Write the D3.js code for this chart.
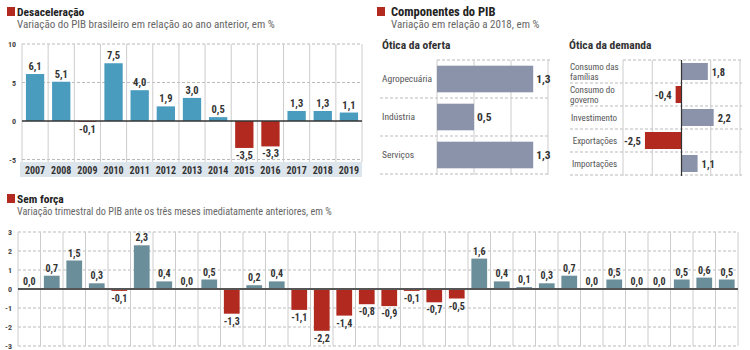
<!DOCTYPE html>
<html>
<head>
<meta charset="utf-8">
<script src="https://cdn.jsdelivr.net/npm/d3@7"></script>
<style>
body { margin: 0; background: #fff; }
svg { font-family: "Roboto Condensed", "Liberation Sans", sans-serif; }
</style>
</head>
<body>
<svg id="chart" width="750" height="350"></svg>
<script>
// anual
var years = ["2007","2008","2009","2010","2011","2012","2013","2014","2015","2016","2017","2018","2019"];
var annualGrowth = [6.1, 5.1, -0.1, 7.5, 4.0, 1.9, 3.0, 0.5, -3.5, -3.3, 1.3, 1.3, 1.1];
var annualTicks = [10, 5, 0, -5];

// componentes
var supplySectors = ["Agropecuária", "Indústria", "Serviços"];
var supplyGrowth = [1.3, 0.5, 1.3];
var supplyTicks = [0, 0.5, 1, 1.5];
var demandItems = ["Consumo das|famílias", "Consumo do|governo", "Investimento", "Exportações", "Importações"];
var demandGrowth = [1.8, -0.4, 2.2, -2.5, 1.1];
var demandTicks = [-4, -2, 0, 2, 4];

// trimestral
var quarterGrowth = [0.0, 0.7, 1.5, 0.3, -0.1, 2.3, 0.4, 0.0, 0.5, -1.3, 0.2, 0.4,
  -1.1, -2.2, -1.4, -0.8, -0.9, -0.1, -0.7, -0.5, 1.6, 0.4, 0.1, 0.3,
  0.7, 0.0, 0.5, 0.0, 0.0, 0.5, 0.6, 0.5];
var quarterTicks = [3, 2, 1, 0, -1, -2, -3];

var RED = "#b22a1f";
var fmt = function(d) { return d.toFixed(1).replace(".", ","); };

var svg = d3.select("#chart");

function header(x, y, gap, title, titleSize, subtitle, subSize) {
    svg.append("rect").attr("x", x).attr("y", y).attr("width", 8).attr("height", 9).attr("fill", RED);
    svg.append("text").attr("x", x + gap).attr("y", y + 9)
        .style("font-size", titleSize).style("font-weight", "bold").attr("fill", "#222").text(title);
    svg.append("text").attr("x", x + gap).attr("y", y + 21)
        .style("font-size", subSize).attr("fill", "#666").text(subtitle);
}

// ---------- Desaceleração ----------
header(7, 7, 10, "Desaceleração", "11.5px", "Variação do PIB brasileiro em relação ao ano anterior, em %", "11px");

var x1 = d3.scaleBand().domain(years).range([22, 362]).paddingInner(0.3).paddingOuter(0.15);
var y1 = d3.scaleLinear().domain([-5, 10]).range([159.5, 44]);
var step1 = x1.step();

svg.append("rect").attr("x", 20).attr("y", 162).attr("width", 342).attr("height", 15).attr("fill", "#dde5ec");

svg.append("g").selectAll("line").data(annualTicks.filter(d => d != 0)).enter().append("line")
    .attr("x1", 22).attr("x2", 362).attr("y1", d => y1(d)).attr("y2", d => y1(d))
    .attr("stroke", "#bbb").attr("stroke-dasharray", "3,2");

svg.append("g").selectAll("line").data(years.concat(["end"])).enter().append("line")
    .attr("x1", (d, i) => 22 + i * step1).attr("x2", (d, i) => 22 + i * step1)
    .attr("y1", y1(10)).attr("y2", 162)
    .attr("stroke", "#ccc");

svg.append("g").selectAll("text").data(annualTicks).enter().append("text")
    .attr("x", 16).attr("y", d => y1(d) + 3).attr("text-anchor", "end")
    .style("font-size", "8px").style("font-weight", "bold").attr("fill", "#444").text(d => d);

svg.append("g").selectAll("rect").data(annualGrowth).enter().append("rect")
    .attr("x", (d, i) => x1(years[i]))
    .attr("width", x1.bandwidth())
    .attr("y", d => y1(Math.max(d, 0)))
    .attr("height", d => Math.abs(y1(d) - y1(0)))
    .attr("fill", d => d >= 0 ? "#4a9cbf" : RED);

svg.append("line").attr("x1", 22).attr("x2", 362).attr("y1", y1(0)).attr("y2", y1(0))
    .attr("stroke", "#333").attr("stroke-width", 1.5);

svg.append("g").selectAll("text").data(annualGrowth).enter().append("text")
    .attr("x", (d, i) => x1(years[i]) + x1.bandwidth() / 2)
    .attr("y", d => d >= 0 ? y1(d) - 4 : y1(d) + 11)
    .attr("text-anchor", "middle")
    .style("font-size", "10.5px").style("font-weight", "bold").attr("fill", "#333").text(fmt);

svg.append("g").selectAll("text").data(years).enter().append("text")
    .attr("x", d => x1(d) + x1.bandwidth() / 2).attr("y", 173.5).attr("text-anchor", "middle")
    .style("font-size", "10px").style("font-weight", "bold").attr("fill", "#333").text(d => d);

// ---------- Componentes do PIB ----------
header(377, 7, 14, "Componentes do PIB", "12.5px", "Variação em relação a 2018, em %", "11px");

svg.append("text").attr("x", 382).attr("y", 49).style("font-size", "11.5px").style("font-weight", "bold")
    .attr("fill", "#333").text("Ótica da oferta");
svg.append("text").attr("x", 569).attr("y", 49).style("font-size", "11.5px").style("font-weight", "bold")
    .attr("fill", "#333").text("Ótica da demanda");

// oferta
var xS = d3.scaleLinear().domain([0, 1.5]).range([437, 548]);
var yS = d3.scaleBand().domain(supplySectors).range([60, 174]).paddingInner(0.3).paddingOuter(0.15);

svg.append("line").attr("x1", 437).attr("x2", 550).attr("y1", 60).attr("y2", 60)
    .attr("stroke", "#bbb").attr("stroke-dasharray", "3,2");
svg.append("g").selectAll("line").data(supplySectors).enter().append("line")
    .attr("x1", 380).attr("x2", 550)
    .attr("y1", (d, i) => 60 + (i + 1) * yS.step()).attr("y2", (d, i) => 60 + (i + 1) * yS.step())
    .attr("stroke", "#bbb").attr("stroke-dasharray", "3,2");
svg.append("g").selectAll("line").data(supplyTicks).enter().append("line")
    .attr("x1", d => xS(d)).attr("x2", d => xS(d)).attr("y1", 60).attr("y2", 175)
    .attr("stroke", "#ccc");

svg.append("g").selectAll("rect").data(supplyGrowth).enter().append("rect")
    .attr("x", xS(0)).attr("y", (d, i) => yS(supplySectors[i]))
    .attr("width", d => xS(d) - xS(0)).attr("height", yS.bandwidth())
    .attr("fill", "#8a93a9");

svg.append("g").selectAll("text").data(supplyGrowth).enter().append("text")
    .attr("x", d => xS(d) + 3).attr("y", (d, i) => yS(supplySectors[i]) + yS.bandwidth() / 2 + 4)
    .style("font-size", "11.5px").style("font-weight", "bold").attr("fill", "#333").text(fmt);

svg.append("g").selectAll("text").data(supplySectors).enter().append("text")
    .attr("x", 382).attr("y", d => yS(d) + yS.bandwidth() / 2 + 3)
    .style("font-size", "9.5px").attr("fill", "#555").text(d => d);

// demanda
var xD = d3.scaleLinear().domain([-4, 4]).range([623, 740]);
var yD = d3.scaleBand().domain(demandItems).range([60, 175]).paddingInner(0.26).paddingOuter(0.13);

svg.append("line").attr("x1", 623).attr("x2", 742).attr("y1", 60).attr("y2", 60)
    .attr("stroke", "#bbb").attr("stroke-dasharray", "3,2");
svg.append("g").selectAll("line").data(demandItems).enter().append("line")
    .attr("x1", 570).attr("x2", 742)
    .attr("y1", (d, i) => 60 + (i + 1) * yD.step()).attr("y2", (d, i) => 60 + (i + 1) * yD.step())
    .attr("stroke", "#bbb").attr("stroke-dasharray", "3,2");
svg.append("g").selectAll("line").data(demandTicks.filter(d => d != 0)).enter().append("line")
    .attr("x1", d => xD(d)).attr("x2", d => xD(d)).attr("y1", 60).attr("y2", 176)
    .attr("stroke", "#ccc");

svg.append("g").selectAll("rect").data(demandGrowth).enter().append("rect")
    .attr("x", d => xD(Math.min(d, 0))).attr("y", (d, i) => yD(demandItems[i]))
    .attr("width", d => Math.abs(xD(d) - xD(0))).attr("height", yD.bandwidth())
    .attr("fill", d => d >= 0 ? "#8a93a9" : RED);

svg.append("line").attr("x1", xD(0)).attr("x2", xD(0)).attr("y1", 60).attr("y2", 176)
    .attr("stroke", "#333").attr("stroke-width", 1.2);

svg.append("g").selectAll("text").data(demandGrowth).enter().append("text")
    .attr("x", d => d >= 0 ? xD(d) + 4 : xD(d) - 4)
    .attr("y", (d, i) => yD(demandItems[i]) + yD.bandwidth() / 2 + 4)
    .attr("text-anchor", d => d >= 0 ? "start" : "end")
    .style("font-size", "10.5px").style("font-weight", "bold").attr("fill", "#333").text(fmt);

var dLabels = svg.append("g").selectAll("text").data(demandItems).enter().append("text")
    .attr("y", d => yD(d) + yD.bandwidth() / 2 + 3)
    .style("font-size", "9px").attr("fill", "#555");
dLabels.each(function(d) {
    var parts = d.split("|");
    var t = d3.select(this);
    if (parts.length == 1) {
        t.attr("text-anchor", "end");
        t.append("tspan").attr("x", 617).text(d);
    } else {
        t.append("tspan").attr("x", 570).attr("dy", -5).text(parts[0]);
        t.append("tspan").attr("x", 570).attr("dy", 10.5).text(parts[1]);
    }
});

// ---------- Sem força ----------
header(7, 194, 10, "Sem força", "11.5px", "Variação trimestral do PIB ante os três meses imediatamente anteriores, em %", "10.2px");

var xQ = d3.scaleBand().domain(d3.range(quarterGrowth.length)).range([18, 738]).paddingInner(0.3).paddingOuter(0.15);
var yQ = d3.scaleLinear().domain([-3, 3]).range([346, 232]);
var stepQ = xQ.step();

svg.append("g").selectAll("line").data(quarterTicks.filter(d => d != 0)).enter().append("line")
    .attr("x1", 18).attr("x2", 738).attr("y1", d => yQ(d)).attr("y2", d => yQ(d))
    .attr("stroke", "#bbb").attr("stroke-dasharray", "3,2");

svg.append("g").selectAll("line").data(d3.range(quarterGrowth.length + 1)).enter().append("line")
    .attr("x1", d => 18 + d * stepQ).attr("x2", d => 18 + d * stepQ)
    .attr("y1", yQ(3)).attr("y2", yQ(-3))
    .attr("stroke", "#ccc");

svg.append("g").selectAll("text").data(quarterTicks).enter().append("text")
    .attr("x", 12).attr("y", d => yQ(d) + 2.5).attr("text-anchor", "end")
    .style("font-size", "8px").style("font-weight", "bold").attr("fill", "#444").text(d => d);

svg.append("g").selectAll("rect").data(quarterGrowth).enter().append("rect")
    .attr("x", (d, i) => xQ(i)).attr("width", xQ.bandwidth())
    .attr("y", d => yQ(Math.max(d, 0)))
    .attr("height", d => Math.abs(yQ(d) - yQ(0)))
    .attr("fill", d => d >= 0 ? "#6b8e9b" : RED);

svg.append("line").attr("x1", 18).attr("x2", 738).attr("y1", yQ(0)).attr("y2", yQ(0))
    .attr("stroke", "#555").attr("stroke-width", 2);

svg.append("g").selectAll("text").data(quarterGrowth).enter().append("text")
    .attr("x", (d, i) => xQ(i) + xQ.bandwidth() / 2)
    .attr("y", d => d >= 0 ? yQ(d) - 4 : yQ(d) + 11)
    .attr("text-anchor", "middle")
    .style("font-size", "10px").style("font-weight", "bold").attr("fill", "#333").text(fmt);
</script>
</body>
</html>
